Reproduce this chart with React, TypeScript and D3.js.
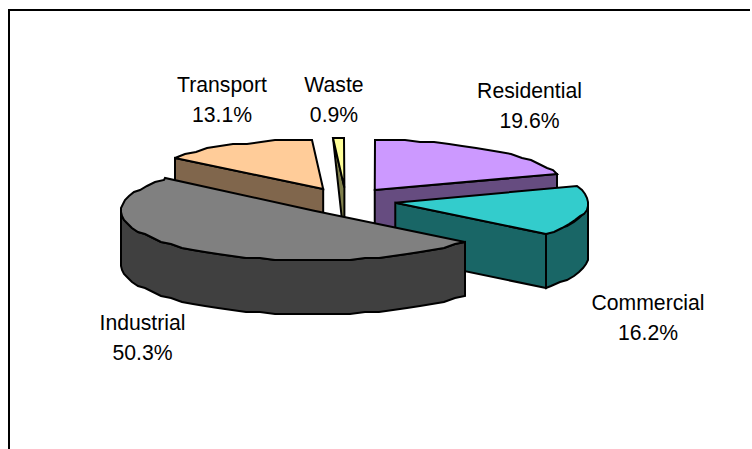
import React from "react";
import * as d3 from "d3";

// Share of emissions by sector, percent, clockwise from twelve o'clock
const sectors = ["Residential", "Commercial", "Industrial", "Transport", "Waste"];
const shares = [19.6, 16.2, 50.3, 13.1, 0.9];
const topColors = ["#CC99FF", "#33CCCC", "#808080", "#FFCC99", "#FFFF99"];
const sideColors = ["#664C80", "#196666", "#404040", "#80664C", "#80804C"];
// Far slices are painted first so nearer ones overlap them
const paintOrder = [3, 4, 0, 1, 2];
const labelCenters = [
  [529.5, 97.5], [648, 310], [142.5, 330], [222, 92], [334, 92],
];

const WIDTH = 752;
const HEIGHT = 449;
const CX = 345.8;
const CY = 200.6;
const RX = 193;
const RY = 50;
const DEPTH = 54;
const EXPLODE = 0.26;
const STEP = Math.PI / 40;
const GRID = 2; // rim vertices snap to a coarse grid, giving the stepped outline

// Tilted pie: unit circle coordinates mapped to a flattened ellipse
const sx = d3.scaleLinear().domain([-1, 1]).range([-RX, RX]);
const sy = d3.scaleLinear().domain([-1, 1]).range([RY, -RY]);
const polyline = d3.line<[number, number]>();

type Pt = [number, number];
const snap = (v: number) => Math.round(v / GRID) * GRID;
const rim = (o: Pt, a: number): Pt => [
  Math.round(o[0] + sx(Math.sin(a))),
  snap(o[1] + sy(Math.cos(a))),
];
const down = (p: Pt): Pt => [p[0], p[1] + DEPTH];

function rimPoints(o: Pt, a0: number, a1: number): Pt[] {
  const pts: Pt[] = [];
  for (let a = a0; a < a1; a += STEP) pts.push(rim(o, a));
  pts.push(rim(o, a1));
  return pts;
}

const closed = (pts: Pt[]) => polyline(pts) + "Z";

const arcs = d3
  .pie<number>()
  .sort(null)
  .value((d) => d)(shares);

function Slice({ index }: { index: number }) {
  const arc = arcs[index];
  const a0 = arc.startAngle;
  const a1 = arc.endAngle;
  const mid = (a0 + a1) / 2;
  const apex: Pt = [
    CX + EXPLODE * sx(Math.sin(mid)),
    CY + EXPLODE * sy(Math.cos(mid)),
  ];
  const top = [apex, ...rimPoints(apex, a0, a1)];
  const faces: Pt[][] = [];

  // Cut faces turned towards the viewer
  if (Math.sin(a1) > 0.01) {
    const e = rim(apex, a1);
    faces.push([apex, e, down(e), down(apex)]);
  }
  if (Math.sin(a0) < -0.01) {
    const s = rim(apex, a0);
    // A very thin wedge shows its cut as a sliver
    faces.push(
      shares[index] < 2
        ? [s, apex, down(apex)]
        : [s, apex, down(apex), down(s)],
    );
  }
  // Outer wall: only the near half of the rim is visible
  const w0 = Math.max(a0, Math.PI / 2);
  const w1 = Math.min(a1, (3 * Math.PI) / 2);
  if (w1 > w0) {
    const wall = rimPoints(apex, w0, w1);
    faces.push([...wall, ...wall.map(down).reverse()]);
  }

  return (
    <g stroke="#000" strokeWidth={2} strokeLinejoin="miter" strokeMiterlimit={3}>
      {faces.map((f, i) => (
        <path key={i} d={closed(f)} fill={sideColors[index]} />
      ))}
      <path d={closed(top)} fill={topColors[index]} />
    </g>
  );
}

export default function App() {
  return (
    <svg
      width={WIDTH}
      height={HEIGHT}
      viewBox={`0 0 ${WIDTH} ${HEIGHT}`}
      style={{ position: "absolute", left: 0, top: 0, background: "#fff" }}
    >
      <path d={`M9 ${HEIGHT}V10H${WIDTH - 2}`} fill="none" stroke="#000" strokeWidth={2} />
      {paintOrder.map((i) => (
        <Slice key={sectors[i]} index={i} />
      ))}
      <g fontFamily="'Liberation Sans', Arial, sans-serif" fontSize={21.2} textAnchor="middle" fill="#000">
        {sectors.map((name, i) => (
          <text key={name} x={labelCenters[i][0]} y={labelCenters[i][1]}>
            <tspan x={labelCenters[i][0]}>{name}</tspan>
            <tspan x={labelCenters[i][0]} dy={30}>{`${shares[i].toFixed(1)}%`}</tspan>
          </text>
        ))}
      </g>
    </svg>
  );
}
